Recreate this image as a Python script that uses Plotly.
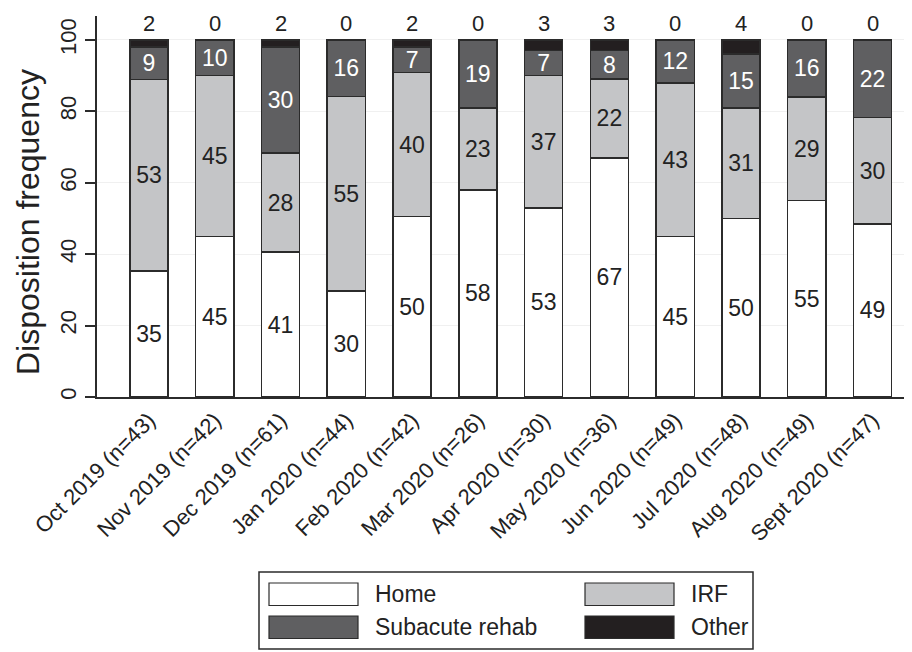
import plotly.graph_objects as go

# ---- data (percent of discharges, as labelled in the chart) ----
months = ["Oct 2019 (n=43)", "Nov 2019 (n=42)", "Dec 2019 (n=61)", "Jan 2020 (n=44)",
          "Feb 2020 (n=42)", "Mar 2020 (n=26)", "Apr 2020 (n=30)", "May 2020 (n=36)",
          "Jun 2020 (n=49)", "Jul 2020 (n=48)", "Aug 2020 (n=49)", "Sept 2020 (n=47)"]
home = [35, 45, 41, 30, 50, 58, 53, 67, 45, 50, 55, 49]
irf = [53, 45, 28, 55, 40, 23, 37, 22, 43, 31, 29, 30]
subacute = [9, 10, 30, 16, 7, 19, 7, 8, 12, 15, 16, 22]
other = [2, 0, 2, 0, 2, 0, 3, 3, 0, 4, 0, 0]
y_ticks = [0, 20, 40, 60, 80, 100]

series = [
    ("Home", home, "#ffffff", "#222222"),
    ("IRF", irf, "#c4c5c7", "#222222"),
    ("Subacute rehab", subacute, "#5f5f61", "#ffffff"),
    ("Other", other, "#231f20", "#222222"),
]

FONT = "Liberation Sans, Arial, Helvetica, sans-serif"
EDGE = "#2b2b2b"

# the page body adds an 8px offset; compensate so the window matches the target
OFF = 8
FIG_W, FIG_H = 912 - OFF, 652 - OFF
# plot-area geometry in window pixels
L, T, W, H = 97, 16, 815, 381


def px(xp):
    return (xp - L) / W


def py(yp):
    return (T + H - yp) / H


fig = go.Figure()
for name, vals, color, tcolor in series:
    show_text = name != "Other"
    fig.add_trace(go.Bar(
        name=name, x=months, y=vals,
        marker=dict(color=color, line=dict(color=EDGE, width=1.5)),
        text=[str(v) for v in vals] if show_text else None,
        textposition="inside" if show_text else "none",
        insidetextanchor="middle",
        textangle=0,
        constraintext="none",
        textfont=dict(family=FONT, size=23, color=tcolor),
        width=0.58,
        showlegend=False,
        hoverinfo="x+name+text",
    ))

annotations = []
# "Other" labels above each bar
for m, v in zip(months, other):
    annotations.append(dict(
        x=m, y=100, xref="x", yref="y", text=str(v), showarrow=False,
        yanchor="bottom", yshift=2,
        font=dict(family=FONT, size=22, color="#222222"),
    ))

# y-axis title
annotations.append(dict(
    x=px(28), y=py(222), xref="paper", yref="paper",
    text="Disposition frequency", showarrow=False, textangle=-90,
    xanchor="center", yanchor="middle",
    font=dict(family=FONT, size=32, color="#222222"),
))

# legend (two columns, wide swatches, boxed)
shapes = [dict(type="rect", xref="paper", yref="paper",
               x0=px(259), x1=px(753), y0=py(649), y1=py(572),
               line=dict(color=EDGE, width=1.5), fillcolor="rgba(0,0,0,0)")]
legend_pos = [(269, 583), (585, 583), (269, 616), (585, 616)]
for (name, vals, color, tcolor), (sx, sy) in zip(series, legend_pos):
    shapes.append(dict(type="rect", xref="paper", yref="paper",
                       x0=px(sx), x1=px(sx + 89), y0=py(sy + 22.5), y1=py(sy),
                       line=dict(color=EDGE, width=1.2), fillcolor=color))
    annotations.append(dict(
        x=px(sx + 104), y=py(sy + 11), xref="paper", yref="paper",
        text=name, showarrow=False, xanchor="left", yanchor="middle",
        font=dict(family=FONT, size=23, color="#222222"),
    ))

fig.update_layout(
    width=FIG_W, height=FIG_H,
    margin=dict(l=L - OFF, r=FIG_W - (L - OFF) - W, t=T - OFF,
                b=FIG_H - (T - OFF) - H, autoexpand=False),
    barmode="stack",
    barnorm="percent",
    paper_bgcolor="white", plot_bgcolor="white",
    font=dict(family=FONT, color="#222222"),
    shapes=shapes,
    annotations=annotations,
    xaxis=dict(
        type="category", range=[-0.79, 11.6],
        showline=True, linecolor=EDGE, linewidth=1.5,
        ticks="", tickangle=-45, showgrid=False,
        tickfont=dict(family=FONT, size=22, color="#222222"),
        automargin=False,
    ),
    yaxis=dict(
        range=[0, 106.7], tickvals=y_ticks,
        showline=True, linecolor=EDGE, linewidth=1.5,
        ticks="outside", ticklen=10, tickcolor=EDGE, tickwidth=1.5,
        tickangle=-90,
        showgrid=True, gridcolor="#f0f0f0", gridwidth=1, zeroline=False,
        tickfont=dict(family=FONT, size=22, color="#222222"),
        automargin=False,
    ),
)

fig.write_html("out.html")
